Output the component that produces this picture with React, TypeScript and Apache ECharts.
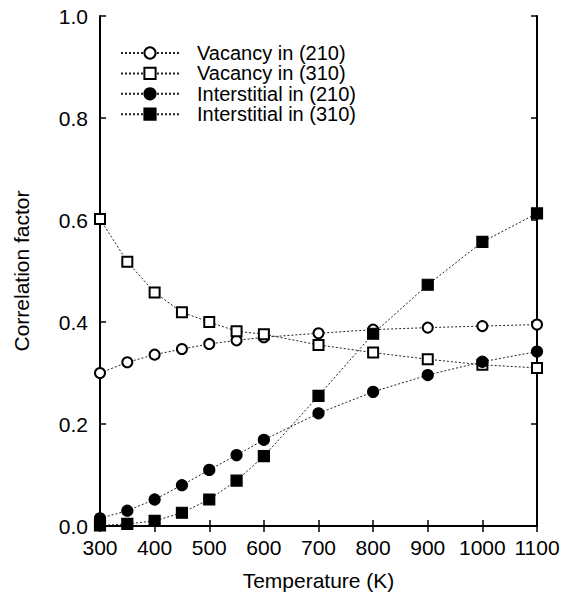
import React, { useEffect, useRef } from "react";
import * as echarts from "echarts";

const temps = [300, 350, 400, 450, 500, 550, 600, 700, 800, 900, 1000, 1100];
const vacancy210 = [0.300, 0.321, 0.336, 0.347, 0.357, 0.364, 0.370, 0.378, 0.385, 0.389, 0.392, 0.395];
const vacancy310 = [0.602, 0.518, 0.458, 0.419, 0.400, 0.382, 0.376, 0.355, 0.340, 0.327, 0.316, 0.310];
const inter210 = [0.015, 0.030, 0.052, 0.080, 0.110, 0.139, 0.169, 0.221, 0.263, 0.296, 0.322, 0.342];
const inter310 = [0.001, 0.004, 0.010, 0.026, 0.052, 0.089, 0.137, 0.255, 0.377, 0.473, 0.557, 0.613];
const seriesNames = ["Vacancy in (210)", "Vacancy in (310)", "Interstitial in (210)", "Interstitial in (310)"];
const seriesSymbols = ["emptyCircle", "emptyRect", "circle", "rect"];

const FONT = "'Liberation Sans', Arial, sans-serif";
const FS = 21;

export default function App() {
  const ref = useRef<HTMLDivElement>(null);
  useEffect(() => {
    if (!ref.current) return;
    const chart = echarts.init(ref.current, null, { renderer: "svg" });
    const datasets = [vacancy210, vacancy310, inter210, inter310];
    const series = datasets.map((vals, i) => ({
      name: seriesNames[i],
      type: "line",
      data: temps.map((t, j) => [t, vals[j]]),
      symbol: seriesSymbols[i],
      symbolSize: i >= 2 ? 11 : 10,
      showAllSymbol: true,
      itemStyle: { color: "#000", borderColor: "#000", borderWidth: 1.2 },
      lineStyle: { color: "#222", width: 1, type: [2, 2] },
      z: 3,
    }));
    const commonAxisLine = { show: true, lineStyle: { color: "#000", width: 2 } };
    const tick = { show: true, inside: true, length: 6, lineStyle: { color: "#000", width: 1.5 } };
    chart.setOption({
      animation: false,
      backgroundColor: "#fff",
      grid: { left: 100, right: 33, top: 16, bottom: 64, containLabel: false },
      legend: {
        orient: "vertical",
        left: 120,
        top: 43,
        padding: 0,
        itemWidth: 58,
        itemHeight: 14,
        itemGap: 0.4,
        data: seriesNames,
        textStyle: { fontFamily: FONT, fontSize: 20, color: "#000", lineHeight: 20, padding: [0, 0, 0, 13] },
        selectedMode: false,
      },
      xAxis: [
        {
          type: "value",
          min: 300,
          max: 1100,
          interval: 100,
          name: "Temperature (K)",
          nameLocation: "middle",
          nameGap: 44,
          nameTextStyle: { fontFamily: FONT, fontSize: FS, color: "#000" },
          axisLine: commonAxisLine,
          axisTick: tick,
          axisLabel: { fontFamily: FONT, fontSize: FS, color: "#000", margin: 11, formatter: (v: number) => String(v) },
          splitLine: { show: false },
        },
        {
          type: "value",
          position: "top",
          min: 300,
          max: 1100,
          interval: 100,
          axisLine: commonAxisLine,
          axisTick: tick,
          axisLabel: { show: false },
          splitLine: { show: false },
        },
      ],
      yAxis: [
        {
          type: "value",
          min: 0,
          max: 1,
          interval: 0.2,
          name: "Correlation factor",
          nameLocation: "middle",
          nameGap: 68,
          nameTextStyle: { fontFamily: FONT, fontSize: FS, color: "#000" },
          axisLine: commonAxisLine,
          axisTick: tick,
          axisLabel: { fontFamily: FONT, fontSize: FS, color: "#000", margin: 12, formatter: (v: number) => v.toFixed(1) },
          splitLine: { show: false },
        },
        {
          type: "value",
          position: "right",
          min: 0,
          max: 1,
          interval: 0.2,
          axisLine: commonAxisLine,
          axisTick: tick,
          axisLabel: { show: false },
          splitLine: { show: false },
        },
      ],
      series,
    });
    return () => chart.dispose();
  }, []);
  return <div ref={ref} style={{ position: "absolute", left: 0, top: 0, width: 570, height: 596 }} />;
}
